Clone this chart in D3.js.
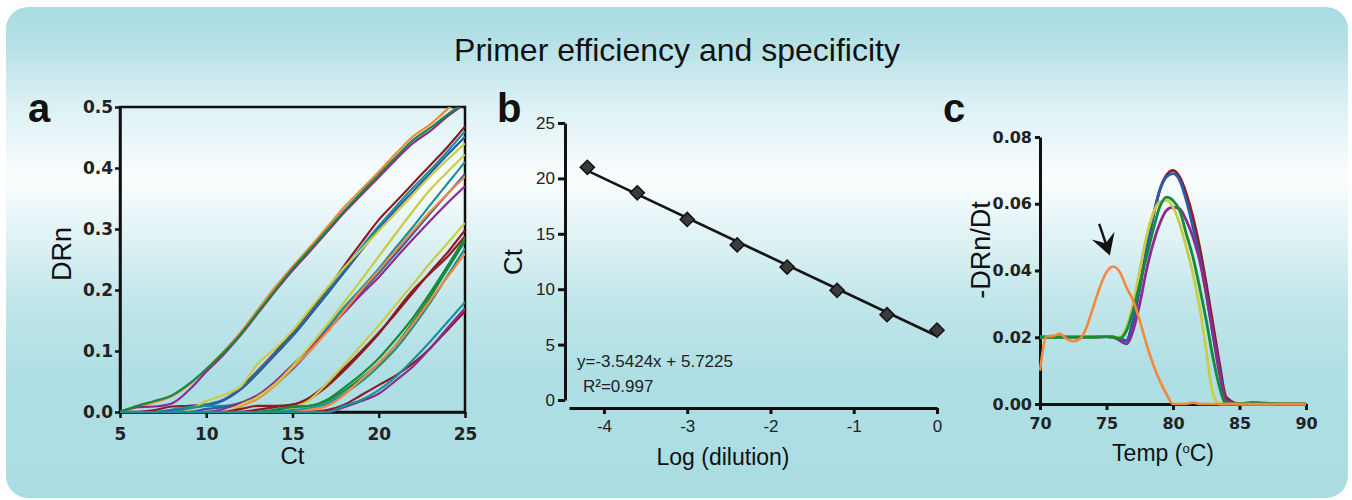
<!DOCTYPE html>
<html>
<head>
<meta charset="utf-8">
<script src="https://cdn.jsdelivr.net/npm/d3@7"></script>
<style>
  body { margin: 0; background: #fff; }
  svg { display: block; font-family: "Liberation Sans", Arial, sans-serif; }
</style>
</head>
<body>
<svg id="fig" width="1352" height="500"></svg>
<script>
// ---------- data ----------
// panel a: amplification plots, DRn read every cycle from Ct 5 to 25
const ctCycles = [5,6,7,8,9,10,11,12,13,14,15,16,17,18,19,20,21,22,23,24,25];
const ampColors = [
  "orange","purple","green",                 // 1st dilution
  "darkred","teal","blue","yellow",          // 2nd
  "teal","blue","purple","orange","yellow",  // 3rd
  "darkred","darkred","yellow",              // 4th
  "green","green","teal","orange",           // 5th
  "darkred","purple","teal"                  // 6th
];
const ampValues = [
  [0,.008,.016,.026,.044,.071,.099,.131,.168,.205,.238,.27,.303,.336,.365,.394,.424,.452,.472,.497,.52],
  [0,.008,.009,.014,.036,.066,.094,.126,.162,.198,.232,.263,.295,.327,.356,.385,.414,.441,.461,.485,.505],
  [0,.01,.018,.027,.046,.07,.097,.128,.164,.2,.235,.266,.298,.33,.36,.389,.418,.446,.466,.488,.508],

  [0,0,.003,.009,.01,.012,.02,.04,.068,.098,.13,.165,.2,.24,.278,.315,.345,.375,.405,.435,.468],
  [0,0,0,.004,.008,.012,.02,.038,.066,.096,.126,.16,.196,.233,.27,.305,.337,.368,.397,.428,.46],
  [0,0,0,.002,.006,.011,.019,.037,.064,.094,.124,.158,.193,.229,.265,.3,.332,.362,.392,.422,.451],
  [0,0,0,0,.004,.018,.028,.042,.08,.104,.133,.168,.203,.237,.267,.297,.327,.357,.387,.414,.44],

  [0,0,0,0,.006,.01,.01,.015,.026,.046,.075,.105,.138,.172,.203,.235,.27,.304,.34,.375,.41],
  [0,0,0,0,0,.005,.008,.014,.025,.045,.07,.1,.133,.166,.197,.228,.26,.293,.326,.358,.39],
  [0,0,0,0,0,0,.005,.015,.028,.05,.077,.104,.133,.163,.193,.221,.253,.284,.314,.343,.37],
  [0,0,0,0,0,0,0,.01,.022,.044,.072,.1,.131,.166,.2,.232,.265,.297,.329,.358,.386],
  [0,0,0,0,0,0,0,.012,.025,.046,.075,.108,.143,.18,.217,.255,.293,.33,.365,.394,.422],

  [0,0,0,0,0,0,0,.005,.01,.01,.012,.024,.046,.072,.1,.13,.162,.196,.23,.262,.298],
  [0,0,0,0,0,0,0,0,.004,.008,.012,.022,.042,.068,.097,.128,.165,.2,.228,.255,.288],
  [0,0,0,0,0,0,0,0,0,0,.005,.02,.047,.078,.11,.142,.176,.21,.245,.277,.31],

  [0,0,0,0,0,0,0,0,0,.004,.008,.01,.018,.035,.056,.08,.11,.148,.19,.235,.28],
  [0,0,0,0,0,0,0,0,0,.002,.009,.01,.02,.04,.062,.088,.12,.155,.196,.24,.286],
  [0,0,0,0,0,0,0,0,0,0,.003,.006,.014,.03,.05,.075,.104,.14,.18,.224,.268],
  [0,0,0,0,0,0,0,0,0,0,0,.004,.01,.028,.054,.08,.11,.145,.184,.222,.26],

  [0,0,0,0,0,0,0,0,0,0,0,0,.003,.012,.028,.044,.06,.08,.105,.135,.165],
  [0,0,0,0,0,0,0,0,0,0,0,0,0,.008,.018,.03,.052,.075,.105,.138,.17],
  [0,0,0,0,0,0,0,0,0,0,0,0,0,.01,.02,.036,.058,.086,.116,.148,.18]
];
const ampXTicks = [5,10,15,20,25];
const ampYTicks = [0,0.1,0.2,0.3,0.4,0.5];

// panel b: standard curve
const logDilution = [-4.2,-3.6,-3.0,-2.4,-1.8,-1.2,-0.6,0];
const ctValues    = [21.0,18.7,16.3,14.0,12.0,9.9,7.7,6.3];
const stdXTicks = [-4,-3,-2,-1,0];
const stdYTicks = [0,5,10,15,20,25];
const stdEquation = "y=-3.5424x + 5.7225";
const stdR2 = "R\u00B2=0.997";

// panel c: melt curves
const meltTemps = [70,71,72,73,74,75,75.5,76,76.5,77,77.5,78,78.5,79,79.5,80,80.5,81,81.5,82,82.5,83,83.5,84,85,86,88,90];
const meltColors = ["darkred","blue","purple","yellow","green"];
const meltValues = [
  [.02,.02,.02,.02,.02,.0202,.02,.0195,.019,.025,.035,.046,.056,.064,.0685,.07,.068,.063,.056,.047,.036,.024,.012,.002,0,0,0,0],
  [.02,.02,.02,.02,.02,.0202,.02,.0195,.019,.025,.035,.046,.056,.064,.068,.069,.067,.061,.053,.044,.033,.021,.01,.001,0,0,0,0],
  [.02,.02,.02,.02,.02,.0202,.0202,.019,.018,.022,.03,.04,.048,.054,.058,.059,.0585,.055,.05,.043,.033,.021,.009,.001,0,0,0,0],
  [.02,.02,.02,.02,.02,.0202,.02,.02,.023,.03,.04,.05,.057,.0605,.061,.059,.054,.047,.039,.029,.016,.003,0,0,0,0,0,0],
  [.02,.02,.02,.02,.02,.0202,.02,.0197,.022,.028,.036,.044,.052,.059,.062,.061,.058,.051,.044,.035,.025,.014,.005,0,0,.0005,0,0]
];
// primer-dimer peak (orange)
const dimerTemps  = [70,70.5,71,71.5,72,72.5,73,73.5,74,74.5,75,75.5,76,76.5,77,77.5,78,78.5,79,79.5,80,81,81.5,82,84,90];
const dimerValues = [.01,.0203,.0204,.021,.0195,.0188,.0195,.023,.029,.035,.0395,.0412,.0395,.035,.031,.025,.018,.012,.007,.003,0,0,.0004,0,0,0];
const meltXTicks = [70,75,80,85,90];
const meltYTicks = [0,0.02,0.04,0.06,0.08];
const arrowFrom = [74.45,0.054];
const arrowTo   = [75.25,0.0445];

const palette = {
  orange: "#f6873a", purple: "#8c2c90", green: "#168a3e", darkred: "#8e1b27",
  blue: "#2c5ca8", teal: "#1b9196", yellow: "#c9cd45"
};

// ---------- drawing ----------
const svg = d3.select("#fig");

const grad = svg.append("defs").append("linearGradient")
  .attr("id","bg").attr("x1",0).attr("y1",0).attr("x2",0).attr("y2",1);
[[0,"#a8dbe2"],[0.08,"#b6e1e7"],[0.2,"#dcf1f4"],[0.35,"#fafdfd"],[0.45,"#e4f4f6"],
 [0.6,"#c1e6ea"],[0.75,"#aedfe4"],[1,"#aadde3"]].forEach(s => {
  grad.append("stop").attr("offset",s[0]).attr("stop-color",s[1]);
});
svg.append("rect").attr("x",6).attr("y",7).attr("width",1342).attr("height",491)
  .attr("rx",22).attr("fill","url(#bg)");

svg.append("text").attr("x",677).attr("y",61).attr("text-anchor","middle")
  .style("font-size","32px").style("fill","#111").text("Primer efficiency and specificity");

// bold ticks use the wider DejaVu face, like the original figure
function styleAxis(g, bold, width, size){
  g.select(".domain").attr("stroke","#111").attr("stroke-width",width);
  g.selectAll(".tick line").attr("stroke","#111").attr("stroke-width",width);
  g.selectAll(".tick text").style("font-size",size+"px").style("fill","#222")
    .style("font-weight", bold ? "bold" : "normal")
    .style("font-family", bold ? "'DejaVu Sans', sans-serif" : "'Liberation Sans', Arial, sans-serif");
}

function panelLetter(x, t){
  svg.append("text").attr("x",x).attr("y",122).style("font-size","40px")
    .style("font-weight","bold").style("fill","#111").text(t);
}

// ----- panel a -----
const xA = d3.scaleLinear().domain([5,25]).range([120,465]);
const yA = d3.scaleLinear().domain([0,0.5]).range([412,107]);
const gA = svg.append("g");
panelLetter(28,"a");

gA.append("clipPath").attr("id","clipA").append("rect")
  .attr("x",xA(5)).attr("y",yA(0.5)).attr("width",xA(25)-xA(5)).attr("height",yA(0)-yA(0.5)+2);

gA.append("g").attr("transform","translate(0,"+yA(0)+")")
  .call(d3.axisBottom(xA).tickValues(ampXTicks).tickSize(6).tickPadding(10).tickSizeOuter(0))
  .call(g => styleAxis(g,true,2.5,17));
gA.append("g").attr("transform","translate("+xA(5)+",0)")
  .call(d3.axisLeft(yA).tickValues(ampYTicks).tickFormat(d3.format(".1f")).tickSize(5).tickPadding(2).tickSizeOuter(0))
  .call(g => styleAxis(g,true,2.5,17));
gA.append("rect").attr("x",xA(5)).attr("y",yA(0.5)).attr("width",xA(25)-xA(5)).attr("height",yA(0)-yA(0.5))
  .attr("fill","none").attr("stroke","#111").attr("stroke-width",2.5);

const lineA = d3.line().x((d,i) => xA(ctCycles[i])).y(d => yA(d)).curve(d3.curveMonotoneX);
gA.append("g").attr("clip-path","url(#clipA)")
  .selectAll("path").data(ampValues).enter().append("path")
  .attr("d", lineA)
  .attr("fill","none")
  .attr("stroke",(d,i) => palette[ampColors[i]])
  .attr("stroke-width",2.2);

gA.append("text").attr("transform","translate(71,254) rotate(-90)").attr("text-anchor","middle")
  .style("font-size","27px").style("fill","#111").text("DRn");
gA.append("text").attr("x",(xA(5)+xA(25))/2).attr("y",464).attr("text-anchor","middle")
  .style("font-size","24px").style("fill","#111").text("Ct");

// ----- panel b -----
const xB = d3.scaleLinear().domain([-4.42,0]).range([569,937]);
const yB = d3.scaleLinear().domain([0,25]).range([400,123]);
const gB = svg.append("g");
panelLetter(497,"b");

gB.append("g").attr("transform","translate(0,408)")
  .call(d3.axisBottom(xB).tickValues(stdXTicks).tickFormat(d => String(d)).tickSize(6).tickPadding(6).tickSizeOuter(0))
  .call(g => styleAxis(g,false,3,17));
gB.append("g").attr("transform","translate(565,0)")
  .call(d3.axisLeft(yB).tickValues(stdYTicks).tickSize(7).tickPadding(3).tickSizeOuter(0))
  .call(g => styleAxis(g,false,3,17));

// least-squares fit of the standard curve
const mx = d3.mean(logDilution), my = d3.mean(ctValues);
const slope = d3.sum(logDilution, (x,i) => (x-mx)*(ctValues[i]-my)) / d3.sum(logDilution, x => (x-mx)*(x-mx));
const icpt = my - slope*mx;
const xr = d3.extent(logDilution);
gB.append("line")
  .attr("x1",xB(xr[0])).attr("y1",yB(icpt+slope*xr[0]))
  .attr("x2",xB(xr[1])).attr("y2",yB(icpt+slope*xr[1]))
  .attr("stroke","#151515").attr("stroke-width",2.6);

gB.selectAll(".pt").data(logDilution).enter().append("path")
  .attr("class","pt")
  .attr("transform",(d,i) => "translate("+xB(d)+","+yB(ctValues[i])+") rotate(45)")
  .attr("d", d3.symbol().type(d3.symbolSquare).size(100))
  .attr("fill","#3b3b3b").attr("stroke","#111").attr("stroke-width",1.5);

gB.append("text").attr("x",577).attr("y",367).style("font-size","17px").style("fill","#222").text(stdEquation);
gB.append("text").attr("x",583).attr("y",392).style("font-size","17px").style("fill","#222").text(stdR2);
gB.append("text").attr("transform","translate(522,262) rotate(-90)").attr("text-anchor","middle")
  .style("font-size","26px").style("fill","#111").text("Ct");
gB.append("text").attr("x",723).attr("y",465).attr("text-anchor","middle")
  .style("font-size","23px").style("fill","#111").text("Log (dilution)");

// ----- panel c -----
const xC = d3.scaleLinear().domain([70,90]).range([1040,1306]);
const yC = d3.scaleLinear().domain([0,0.08]).range([404,137]);
const gC = svg.append("g");
panelLetter(943,"c");

gC.append("g").attr("transform","translate(0,"+yC(0)+")")
  .call(d3.axisBottom(xC).tickValues(meltXTicks).tickSize(6).tickPadding(8).tickSizeOuter(0))
  .call(g => styleAxis(g,true,3,16));
gC.append("g").attr("transform","translate("+xC(70)+",0)")
  .call(d3.axisLeft(yC).tickValues(meltYTicks).tickFormat(d3.format(".2f")).tickSize(5).tickPadding(3).tickSizeOuter(0))
  .call(g => styleAxis(g,true,3,16));

const lineC = d3.line().curve(d3.curveMonotoneX);
gC.selectAll(".melt").data(meltValues).enter().append("path")
  .attr("class","melt")
  .attr("d", vals => lineC(vals.map((v,i) => [xC(meltTemps[i]), yC(v)])))
  .attr("fill","none")
  .attr("stroke",(d,i) => palette[meltColors[i]])
  .attr("stroke-width",2.8);
gC.append("path")
  .attr("d", lineC(dimerValues.map((v,i) => [xC(dimerTemps[i]), yC(v)])))
  .attr("fill","none").attr("stroke",palette.orange).attr("stroke-width",2.6);

// arrow pointing at the dimer peak
const tail = [xC(arrowFrom[0]), yC(arrowFrom[1])];
const tip = [xC(arrowTo[0]), yC(arrowTo[1])];
const ang = Math.atan2(tip[1]-tail[1], tip[0]-tail[0]) * 180 / Math.PI;
gC.append("line").attr("x1",tail[0]).attr("y1",tail[1])
  .attr("x2",tip[0] - 10*Math.cos(ang*Math.PI/180)).attr("y2",tip[1] - 10*Math.sin(ang*Math.PI/180))
  .attr("stroke","#111").attr("stroke-width",2.4);
gC.append("path").attr("transform","translate("+tip[0]+","+tip[1]+") rotate("+ang+")")
  .attr("d","M0,0 L-21,-12 L-13,0 L-21,12 Z").attr("fill","#111");

gC.append("text").attr("transform","translate(990,250) rotate(-90)").attr("text-anchor","middle")
  .style("font-size","27px").style("fill","#111").text("-DRn/Dt");
const tt = gC.append("text").attr("x",1163).attr("y",461).attr("text-anchor","middle")
  .style("font-size","23px").style("fill","#111");
tt.append("tspan").text("Temp (");
tt.append("tspan").attr("dy",-8).style("font-size","13px").text("o");
tt.append("tspan").attr("dy",8).text("C)");
</script>
</body>
</html>
